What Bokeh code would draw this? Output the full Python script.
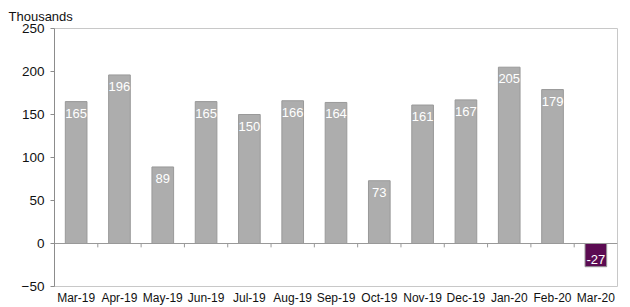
from bokeh.plotting import figure
from bokeh.models import ColumnDataSource, Range1d, FactorRange, SingleIntervalTicker, Span
from bokeh.transform import dodge
from bokeh.core.properties import value
from bokeh.embed import file_html
from bokeh.resources import INLINE

categories = ["Mar-19", "Apr-19", "May-19", "Jun-19", "Jul-19", "Aug-19", "Sep-19",
              "Oct-19", "Nov-19", "Dec-19", "Jan-20", "Feb-20", "Mar-20"]
values = [165, 196, 89, 165, 150, 166, 164, 73, 161, 167, 205, 179, -27]
y_min, y_max, y_step = -50, 250, 50

GREY = "#adadad"
PURPLE = "#5b0b52"
FONT = "Liberation Sans"

colors = [GREY if v >= 0 else PURPLE for v in values]
src = ColumnDataSource(dict(
    cat=categories, val=values, color=colors,
    label=[str(v) for v in values],
    base=["top" if v >= 0 else "bottom" for v in values],
    yoff=[7 if v >= 0 else -3 for v in values],
))

p = figure(x_range=FactorRange(factors=categories), y_range=Range1d(y_min, y_max),
           width=630, height=307, output_backend="svg", toolbar_location=None,
           min_border_left=54, min_border_right=13, min_border_top=28, min_border_bottom=0)

p.title.text = "Thousands"
p.title.text_font = FONT
p.title.text_font_size = "13px"
p.title.text_font_style = "normal"
p.title.text_color = "#111111"
p.title.align = "left"
p.title.offset = -46
p.title.standoff = 10

p.outline_line_color = "#c8c8c8"
p.background_fill_color = "white"
p.border_fill_color = "white"
p.xgrid.visible = False
p.ygrid.visible = False

p.vbar(x="cat", top="val", bottom=0, width=0.5, source=src,
       fill_color="color", line_color="#999999", line_width=1)

p.add_layout(Span(location=0, dimension="width", line_color="#999999", line_width=1))

# boundary ticks on zero line
bsrc = ColumnDataSource(dict(cat=categories[1:], y0=[0] * (len(categories) - 1),
                             y1=[-4.5] * (len(categories) - 1)))
p.segment(x0=dodge("cat", -0.5, range=p.x_range), x1=dodge("cat", -0.5, range=p.x_range),
          y0="y0", y1="y1", source=bsrc, line_color="#999999", line_width=1)

p.text(x="cat", y="val", text="label", source=src, text_align="center",
       text_baseline="base", y_offset="yoff", text_color="white",
       text_font=value(FONT), text_font_size="13px")

ya = p.yaxis[0]
ya.ticker = SingleIntervalTicker(interval=y_step)
ya.axis_line_color = "#8c8c8c"
ya.major_tick_line_color = "#8c8c8c"
ya.major_tick_out = 4
ya.major_tick_in = 0
ya.minor_tick_line_color = None
ya.major_label_standoff = 6
ya.major_label_text_font = FONT
ya.major_label_text_font_size = "13.5px"
ya.major_label_text_color = "#111111"

xa = p.xaxis[0]
xa.axis_line_color = None
xa.major_tick_line_color = None
xa.minor_tick_line_color = None
xa.major_tick_out = 0
xa.major_tick_in = 0
xa.major_label_standoff = 4
xa.major_label_text_font = FONT
xa.major_label_text_font_size = "12px"
xa.major_label_text_color = "#111111"

open("out.html", "w").write(file_html(p, INLINE))
